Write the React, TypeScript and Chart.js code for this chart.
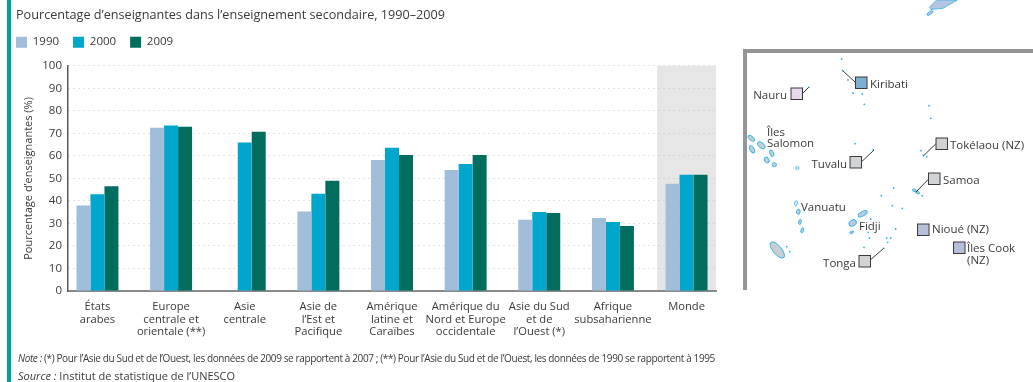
import React, { useEffect, useRef } from "react";
import { Chart, registerables } from "chart.js";

Chart.register(...registerables);

const FONT = "'Open Sans', sans-serif";
const INK = "#3a3a3c";

const titleText = "Pourcentage d’enseignantes dans l’enseignement secondaire, 1990–2009";
const yTitle = "Pourcentage d’enseignantes (%)";
const categories: string[][] = [
  ["États", "arabes"],
  ["Europe", "centrale et", "orientale (**)"],
  ["Asie", "centrale"],
  ["Asie de", "l’Est et", "Pacifique"],
  ["Amérique", "latine et", "Caraïbes"],
  ["Amérique du", "Nord et Europe", "occidentale"],
  ["Asie du Sud", "et de", "l’Ouest (*)"],
  ["Afrique", "subsaharienne"],
  ["Monde"],
];
const values1990: (number | null)[] = [38, 72.5, null, 35.3, 58.2, 53.8, 31.6, 32.4, 47.6];
const values2000: number[] = [43, 73.5, 66, 43.2, 63.6, 56.4, 35.1, 30.7, 51.6];
const values2009: number[] = [46.5, 73, 70.7, 49, 60.4, 60.4, 34.7, 28.9, 51.6];

type Lbl = [string, number, number, "start" | "end"];
const mapLabels: Lbl[] = [
  ["Kiribati", 870, 83, "start"],
  ["Nauru", 787, 94, "end"],
  ["Îles", 767, 131, "start"],
  ["Salomon", 767, 142, "start"],
  ["Tokélaou (NZ)", 950, 144, "start"],
  ["Tuvalu", 847, 163, "end"],
  ["Samoa", 943, 179, "start"],
  ["Vanuatu", 801, 206, "start"],
  ["Fidji", 859, 225, "start"],
  ["Nioué (NZ)", 932, 228, "start"],
  ["Îles Cook", 967, 247, "start"],
  ["(NZ)", 967, 259, "start"],
  ["Tonga", 856, 262, "end"],
];
const mapSquares: [number, number, string][] = [
  [855.5, 77, "#7bafd4"], [791, 88, "#e6d9ec"], [936, 138, "#d1d3d4"], [850, 156.5, "#d1d3d4"],
  [928.5, 173, "#d1d3d4"], [917.5, 224, "#b5bfd9"], [953.5, 242, "#b5bfd9"], [859, 255.5, "#d1d3d4"],
];
const mapLines: [number, number, number, number][] = [
  [842.7, 70.7, 855.3, 82.3], [802.7, 93.3, 808.7, 87.3], [935.7, 144, 923.3, 156],
  [861.7, 161.7, 874, 150], [928.3, 179.3, 915.7, 192.3], [871, 259.3, 883.7, 248.3],
];
const islands: [number, number, number, number, number, string][] = [
  [777.3, 250, 10, 4.2, 50, "#c9ced3"], [751.3, 138.3, 4, 2, 40, "#c9ced3"], [761.3, 145.3, 4.5, 2.6, 40, "#c9ced3"],
  [752, 149.3, 4, 2, 60, "#c9ced3"], [771.7, 153.3, 3.5, 1.8, 70, "#c9ced3"], [766.7, 160, 3, 2.2, 60, "#c9ced3"],
  [774.3, 164.7, 2.2, 2, 0, "#c9ced3"], [797.3, 168, 1.6, 1.4, 0, "#ffffff"], [796, 203.3, 2.6, 1.3, 100, "#ffffff"],
  [798.3, 211.7, 2.6, 1.8, 100, "#c9ced3"], [800, 222, 2.6, 1.3, 100, "#c9ced3"], [802.3, 230.3, 2.6, 1.3, 110, "#c9ced3"],
  [852.7, 223, 4, 3, 145, "#bcc8e2"], [862.7, 213.7, 5, 2.2, 150, "#bcc8e2"], [851.7, 232.3, 2, 1, 160, "#bcc8e2"],
  [914.3, 190.3, 2, 1.2, 20, "#c9ced3"], [917.7, 192.7, 2, 1, 20, "#c9ced3"],
];
const dots: [number, number][] = [
  [893.7, 188], [881.3, 195.7], [892.3, 205.7], [902.3, 208.3], [895.7, 229], [869.3, 238], [868.3, 232.3],
  [870.7, 219], [886.7, 238], [890.7, 238], [887.7, 242.3], [864, 247.3], [883.7, 248.3], [786.7, 246.7],
  [789.7, 251.7], [841.7, 59], [842.7, 70.7], [848, 80], [853, 93], [862.3, 94], [864.3, 104.3], [929, 105.7],
  [930.7, 118.3], [855, 143.7], [873.3, 149.7], [808.7, 87.3], [921, 150.7], [923.3, 155.3], [926.7, 156.7], [922.3, 195.7],
];

const bandStart = 7.6;

const layoutPlugin = {
  id: "layoutTweaks",
  afterLayout(chart: any) {
    chart.legend.left = 2;
    chart.legend.top -= 8;
  },
  beforeDraw(chart: any) {
    const { ctx, chartArea, scales } = chart;
    const x0 = scales.x.getPixelForValue(bandStart);
    ctx.save();
    ctx.fillStyle = "#e6e6e6";
    ctx.fillRect(x0, chartArea.top, chartArea.right - x0, chartArea.bottom - chartArea.top);
    ctx.restore();
  },
};

const toPoints = (arr: (number | null)[]) => arr.map((y, x) => ({ x, y }));

export default function App() {
  const ref = useRef<HTMLCanvasElement | null>(null);
  useEffect(() => {
    const chart = new Chart(ref.current as HTMLCanvasElement, {
      type: "bar",
      data: {
        datasets: [
          { label: "1990", data: toPoints(values1990), backgroundColor: "#a0bdd9" },
          { label: "2000", data: toPoints(values2000), backgroundColor: "#00a6cc" },
          { label: "2009", data: toPoints(values2009), backgroundColor: "#006d5f" },
        ],
      } as any,
      plugins: [layoutPlugin],
      options: {
        animation: false,
        responsive: false,
        datasets: { bar: { categoryPercentage: 0.57, barPercentage: 1 } },
        layout: { padding: { left: 16, right: 317, top: 0, bottom: 0 } },
        plugins: {
          tooltip: { enabled: false },
          title: {
            display: true,
            text: titleText,
            align: "start",
            color: INK,
            font: { family: FONT, size: 12.65, weight: "normal" },
            padding: { top: 8, bottom: 7.2 },
          },
          legend: {
            display: true,
            position: "top",
            align: "start",
            labels: {
              boxWidth: 11,
              boxHeight: 11,
              padding: 14,
              color: INK,
              font: { family: FONT, size: 11.5 },
            },
          },
        },
        scales: {
          x: {
            type: "linear",
            min: -0.4,
            max: 8.4,
            offset: false,
            grid: { display: false, drawTicks: false },
            border: { display: true, color: "#8a8a8c", width: 2 },
            afterBuildTicks: (s: any) => {
              s.ticks = categories.map((_, i) => ({ value: i }));
            },
            afterFit: (s: any) => {
              s.height = 91;
            },
            ticks: {
              autoSkip: false,
              maxRotation: 0,
              padding: 9.5,
              color: INK,
              font: { family: FONT, size: 11.2, lineHeight: 1.12 },
              callback: (v: any) => categories[v],
            },
          },
          y: {
            min: 0,
            max: 100,
            afterFit: (s: any) => {
              s.width = 52;
            },
            grid: { color: "#c4c4c4", drawTicks: false },
            border: { display: true, color: "#58595b", width: 1.5, dash: [1, 4] },
            title: {
              display: true,
              text: yTitle,
              color: INK,
              font: { family: FONT, size: 11 },
              padding: { top: 6, bottom: 4 },
            },
            ticks: { stepSize: 10, padding: 6, color: INK, font: { family: FONT, size: 11.5 } },
          },
        },
      } as any,
    });
    return () => chart.destroy();
  }, []);

  return (
    <div style={{ position: "absolute", left: 0, top: 0, width: 1033, height: 382, overflow: "hidden", background: "#fff" }}>
      <canvas ref={ref} width={1033} height={382} style={{ position: "absolute", left: 0, top: 0 }} />
      <div style={{ position: "absolute", left: 7, top: 0, width: 4, height: 382, background: "#00a19a" }} />
      <div style={{ position: "absolute", left: 18, top: 351, whiteSpace: "nowrap", fontFamily: FONT, fontSize: 10, lineHeight: "14px", color: INK, letterSpacing: "-0.38px" }}>
        <i>Note :</i> (*) Pour l’Asie du Sud et de l’Ouest, les données de 2009 se rapportent à 2007 ; (**) Pour l’Asie du Sud et de l’Ouest, les données de 1990 se rapportent à 1995
      </div>
      <div style={{ position: "absolute", left: 18, top: 369, whiteSpace: "nowrap", fontFamily: FONT, fontSize: 11, lineHeight: "14px", color: INK }}>
        <i>Source :</i> Institut de statistique de l’UNESCO
      </div>
      <svg width={1033} height={382} style={{ position: "absolute", left: 0, top: 0 }}>
        <path d="M929.3 7.3 L936.7 0 L957.3 0 L943 8.3 L931 9.5 Z" fill="#b5c4e0" stroke="#29b5e8" strokeWidth={0.8} />
        <ellipse cx={930} cy={13} rx={3.5} ry={1.4} transform="rotate(-35 930 13)" fill="#b5c4e0" stroke="#29b5e8" strokeWidth={0.8} />
        <rect x={743} y={49} width={290} height={4} fill="#939598" />
        <rect x={743} y={49} width={4} height={241} fill="#939598" />
        {islands.map(([cx, cy, rx, ry, r, fill], i) => (
          <ellipse key={i} cx={cx} cy={cy} rx={rx} ry={ry} transform={`rotate(${r} ${cx} ${cy})`} fill={fill} stroke="#29b5e8" strokeWidth={0.9} />
        ))}
        {dots.map(([cx, cy], i) => <circle key={i} cx={cx} cy={cy} r={0.9} fill="#29b5e8" />)}
        {mapLines.map(([a, b, c, d], i) => <line key={i} x1={a} y1={b} x2={c} y2={d} stroke="#3a3a3c" strokeWidth={1} />)}
        {mapSquares.map(([x, y, fill], i) => <rect key={i} x={x} y={y} width={11.5} height={11.5} fill={fill} stroke="#3a3a3c" strokeWidth={1} />)}
        {mapLabels.map(([t, x, y, a], i) => (
          <text key={i} x={x} y={y} textAnchor={a} dominantBaseline="central" fontFamily={FONT} fontSize={11.5} fill={INK}>{t}</text>
        ))}
      </svg>
    </div>
  );
}
